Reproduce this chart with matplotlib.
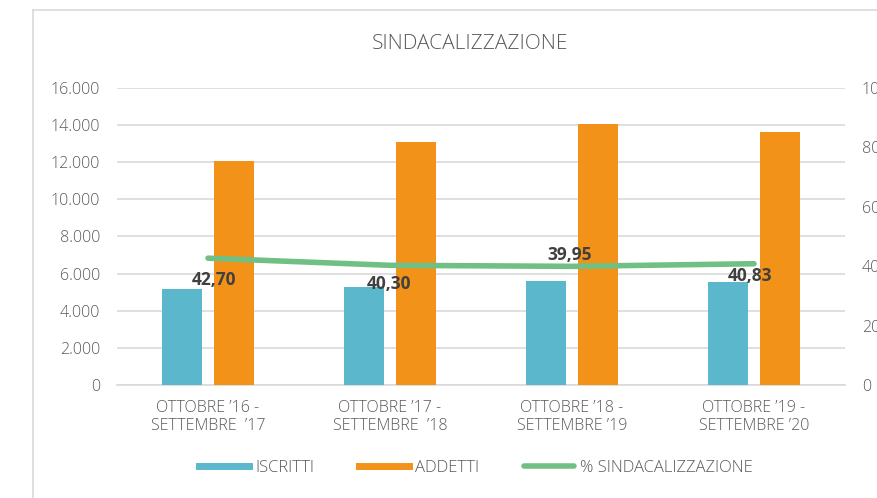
import numpy as np
import matplotlib
matplotlib.use('Agg')
from matplotlib import pyplot as plt
from matplotlib.ticker import FuncFormatter
from matplotlib.lines import Line2D

# data
categories = ["OTTOBRE \u201916 -\nSETTEMBRE  \u201917",
              "OTTOBRE \u201917 -\nSETTEMBRE  \u201918",
              "OTTOBRE \u201918 -\nSETTEMBRE \u201919",
              "OTTOBRE \u201919 -\nSETTEMBRE \u201920"]
iscritti = [5160, 5280, 5610, 5570]
addetti = [12080, 13110, 14050, 13640]
sindacalizzazione = [42.70, 40.30, 39.95, 40.83]
pct_labels = ["42,70", "40,30", "39,95", "40,83"]

# label offsets in pixels (dx, dy) relative to the line point
label_offsets = [(6, -22), (-1, -19), (-2, 11), (-4, -12)]

blue = '#5bb8cc'
orange = '#f39219'
green = '#70bf85'
grid_col = '#d9d9d9'
text_col = '#595959'

plt.rcParams['font.family'] = ['Open Sans', 'DejaVu Sans']

fig = plt.figure(figsize=(8.77, 4.98), dpi=100)
W, H = 877.0, 498.0
ax = fig.add_axes([117/W, 1-385/H, (845-117)/W, (385-88)/H])
ax2 = ax.twinx()

x = np.arange(len(categories))
bw = 0.22
off = 0.143
ax.bar(x - off, iscritti, bw, color=blue, label='ISCRITTI', zorder=3)
ax.bar(x + off, addetti, bw, color=orange, label='ADDETTI', zorder=3)

ax.set_xlim(-0.5, len(categories) - 0.5)
ax.set_ylim(0, 16000)
ax.set_yticks(np.arange(0, 16001, 2000))
ax.yaxis.set_major_formatter(FuncFormatter(lambda v, p: f"{int(v):,}".replace(',', '.')))
ax.grid(axis='y', color=grid_col, linewidth=1.2, zorder=0)
ax.set_axisbelow(True)
for s in ['top', 'right', 'left']:
    ax.spines[s].set_visible(False)
ax.spines['bottom'].set_color(grid_col)
ax.spines['bottom'].set_linewidth(1.2)
ax.set_xticks(x)
ax.set_xticklabels(categories, fontsize=11.5, color=text_col, linespacing=1.15,
                   fontweight='light')
ax.tick_params(axis='x', length=0, pad=11)
ax.tick_params(axis='y', length=0, labelsize=11.5, labelcolor=text_col, pad=12)
for t in ax.get_yticklabels():
    t.set_fontweight('light')

ax2.plot(x, sindacalizzazione, color=green, linewidth=4, solid_capstyle='round',
         solid_joinstyle='round', label='% SINDACALIZZAZIONE', zorder=4)
ax2.set_ylim(0, 100)
ax2.set_yticks(np.arange(0, 101, 20))
ax2.tick_params(axis='y', length=0, labelsize=11.5, labelcolor=text_col, pad=12)
for t in ax2.get_yticklabels():
    t.set_fontweight('light')
for s in ax2.spines.values():
    s.set_visible(False)

for xi, yi, lab, (dx, dy) in zip(x, sindacalizzazione, pct_labels, label_offsets):
    ax2.annotate(lab, (xi, yi), xytext=(dx, dy), textcoords='offset pixels',
                 ha='center', va='center', fontsize=12.5, fontweight='bold',
                 color='#404040', zorder=5)

fig.text(470/W, 1-44/H, "SINDACALIZZAZIONE", ha='center', va='center',
         fontsize=15, color=text_col, fontweight='light')

handles = [Line2D([], [], color=blue, linewidth=5),
           Line2D([], [], color=orange, linewidth=5),
           Line2D([], [], color=green, linewidth=4, solid_capstyle='round')]
fig.legend(handles, ['ISCRITTI', 'ADDETTI', '% SINDACALIZZAZIONE'],
           loc='center', bbox_to_anchor=(476/W, 1-468/H), ncol=3, frameon=False,
           handlelength=3.0, handletextpad=0.35, columnspacing=2.7,
           prop={'size': 12, 'weight': 'light'}, labelcolor=text_col)

# chart area frame (left and top edges visible)
fig.add_artist(Line2D([33/W, 33/W], [0, 1-10/H], color=grid_col, linewidth=1.2))
fig.add_artist(Line2D([33/W, 1], [1-10/H, 1-10/H], color=grid_col, linewidth=1.2))

plt.savefig('out.png', format='png', dpi=100)
plt.close()
